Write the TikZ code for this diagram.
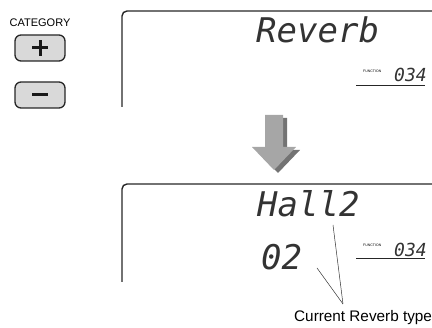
\documentclass[tikz,border=0pt]{standalone}
\usepackage{fontspec}
\setmainfont{Liberation Sans}
\newfontfamily\lcdfont{DejaVu Sans Mono}
\begin{document}
\begin{tikzpicture}[x=1pt,y=-1pt]
\useasboundingbox (0,0) rectangle (432,328);
\tikzset{
  frameline/.style={line width=1.4pt, draw=black!85, rounded corners=5pt},
  btn/.style={draw=black!85, line width=1.3pt, fill=black!15, rounded corners=6pt,
    minimum width=50pt, minimum height=26pt, inner sep=0pt},
  sym/.style={line width=3pt, draw=black!90},
  lcd/.style={text=black!80, inner sep=0pt, anchor=base west},
  big/.style={lcd, font=\lcdfont\itshape\fontsize{34}{34}\selectfont},
  seg/.style={lcd, font=\lcdfont\itshape\fontsize{34}{34}\selectfont},
  small/.style={lcd, font=\lcdfont\itshape\fontsize{18}{18}\selectfont},
  tiny/.style={inner sep=0pt, anchor=base west, font=\fontsize{3.5}{3.5}\selectfont},
  uline/.style={line width=0.8pt, draw=black!85},
  leader/.style={line width=0.5pt, draw=black!80},
}
% category buttons
\node[anchor=base, inner sep=0pt, font=\fontsize{11}{11}\selectfont] (cat) at (40,27) {CATEGORY};
\node[btn] (plus) at (40,48) {};
\node[btn] (minus) at (40,95) {};
\draw[sym] ([xshift=-8pt]plus.center) -- ([xshift=8pt]plus.center);
\draw[sym] ([yshift=-8pt]plus.center) -- ([yshift=8pt]plus.center);
\draw[sym] ([xshift=-8pt]minus.center) -- ([xshift=8pt]minus.center);
% top display
\draw[frameline] (122,107) -- (122,11) -- (445,11);
\node[big] (rev) at (256,43) {Reverb};
\node[tiny] (fn1) at (363,73) {FUNCTION};
\node[small] (num1) at (394,82) {034};
\draw[uline] (356,85) -- (425,85);
% arrow
\fill[black!55] (269,118) -- (287,118) -- (287,150) -- (300,150) -- (278,173) -- (256,150) -- (269,150) -- cycle;
\fill[black!35] (265,115) -- (283,115) -- (283,147) -- (296,147) -- (274,170) -- (252,147) -- (265,147) -- cycle;
% bottom display
\draw[frameline] (122,282) -- (122,184) -- (445,184);
\node[big] (hall) at (257,217) {Hall2};
\node[seg] (val) at (261,270) {02};
\node[tiny] (fn2) at (363,247) {FUNCTION};
\node[small] (num2) at (394,257) {034};
\draw[uline] (356,258) -- (425,258);
% leaders
\node[anchor=base west, inner sep=0pt, font=\fontsize{15.3}{15.3}\selectfont] (capt) at (294,322) {Current Reverb type};
\coordinate (tip) at (343,304);
\coordinate (hallpt) at (333,225);
\coordinate (valpt) at (317,268);
\draw[leader] (hallpt) -- (tip);
\draw[leader] (valpt) -- (tip);
\end{tikzpicture}
\end{document}
